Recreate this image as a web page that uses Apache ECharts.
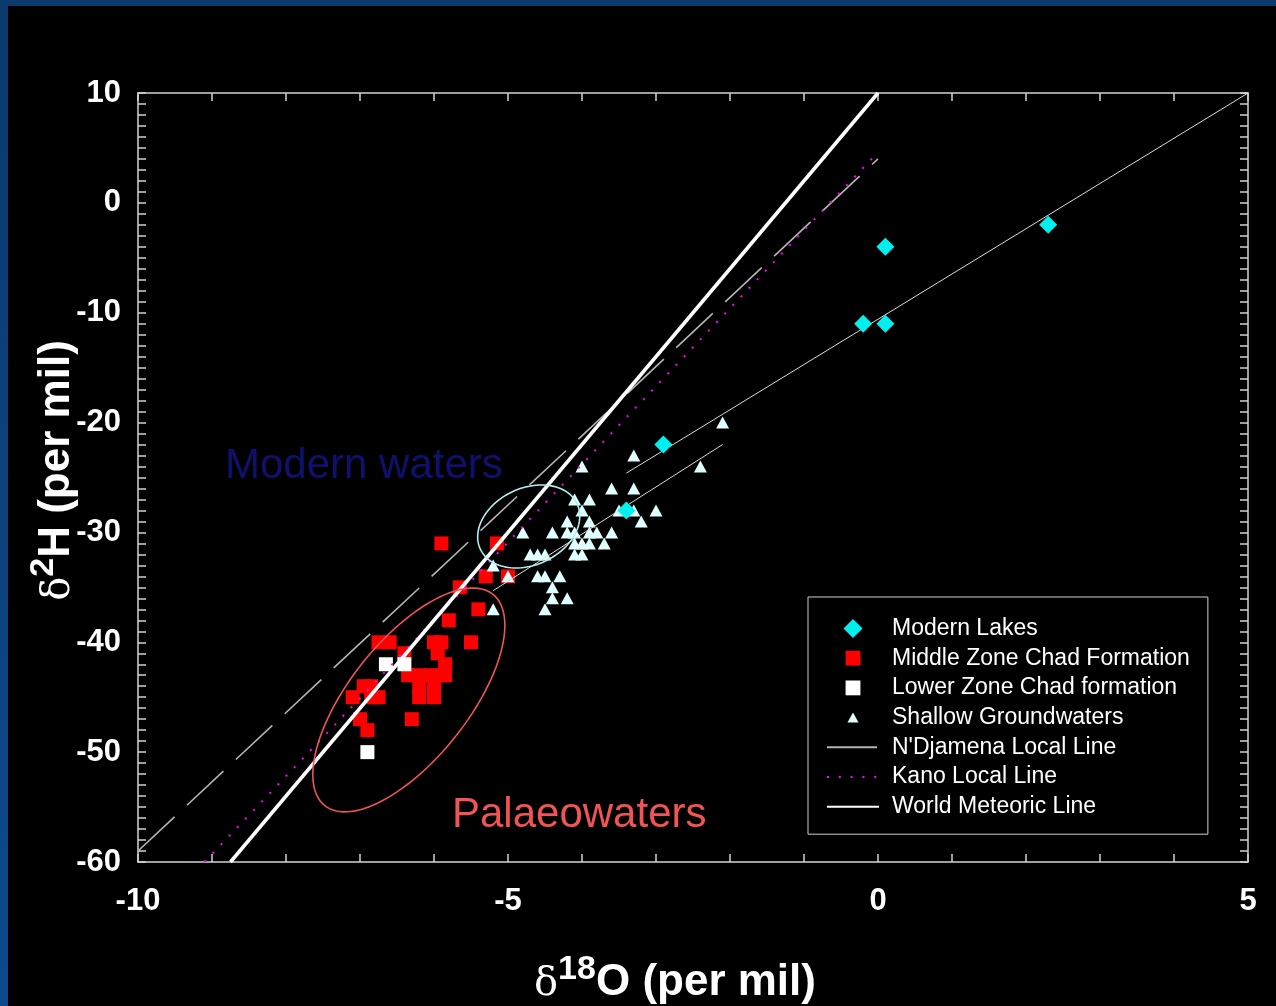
<!DOCTYPE html>
<html><head><meta charset="utf-8">
<script src="https://cdn.jsdelivr.net/npm/echarts@6/dist/echarts.min.js"></script>
<style>
html,body{margin:0;padding:0;width:1276px;height:1006px;overflow:hidden;background:linear-gradient(180deg,#0b3a6c,#0d4a8c);}
#c{position:absolute;left:8px;top:6px;width:1268px;height:1000px;background:#000;}
</style></head><body><div id="c"></div>
<script>
// ---- data ----
var xTicks = [-10, -5, 0, 5];
var yTicks = [-60, -50, -40, -30, -20, -10, 0, 10];

var modernLakes = [[2.3,-2],[0.1,-4],[-0.2,-11],[0.1,-11],[-2.9,-22],[-3.4,-28]];

var middleZone = [
  [-5.9,-31],[-5.15,-31],[-5.3,-34],[-5.0,-34],[-5.65,-35],[-5.4,-37],[-5.8,-38],
  [-6.75,-40],[-6.6,-40],[-6.0,-40],[-5.9,-40],[-5.5,-40],
  [-6.4,-41],[-5.95,-41],[-5.85,-42],
  [-6.35,-43],[-6.2,-43],[-6.05,-43],[-5.9,-43],[-5.85,-43],
  [-6.2,-44],[-6.0,-44],[-6.2,-45],[-6.0,-45],
  [-6.95,-44],[-6.85,-44],[-7.1,-45],[-6.85,-45],[-6.75,-45],
  [-7.0,-47],[-6.9,-48],[-6.3,-47]
];

var lowerZone = [[-6.65,-42],[-6.4,-42],[-6.9,-50]];

var shallow = [
  [-2.1,-20],[-3.3,-23],[-2.4,-24],[-4.0,-24],
  [-3.6,-26],[-3.3,-26],
  [-4.1,-27],[-3.9,-27],
  [-4.0,-28],[-3.5,-28],[-3.3,-28],[-3.0,-28],
  [-4.2,-29],[-3.9,-29],[-3.2,-29],
  [-4.8,-30],[-4.4,-30],[-4.2,-30],[-4.1,-30],[-3.9,-30],[-3.8,-30],[-3.6,-30],
  [-4.1,-31],[-4.0,-31],[-3.9,-31],[-3.7,-31],
  [-4.7,-32],[-4.6,-32],[-4.5,-32],[-4.1,-32],[-4.0,-32],
  [-5.2,-33],
  [-5.0,-34],[-4.6,-34],[-4.5,-34],[-4.3,-34],
  [-4.4,-35],
  [-4.4,-36],[-4.2,-36],
  [-4.5,-37],[-5.2,-37]
];

var ndjamenaLine = [[-10,-59],[0,4]];
var kanoLine = [[-9.1,-60],[0,4.6]];
var worldMeteoricLine = [[-8.75,-60],[0,10]];
var evaporationLine1 = [[-3.4,-24.6],[5,10]];
var evaporationLine2 = [[-5.2,-35.3],[-2.1,-22.0]];

var modernEllipseCenter = [-4.72,-29.46];
var modernEllipseAxes = [[0.654,2.062],[-0.220,3.165]];
var palaeoEllipseCenter = [-6.34,-45.25];
var palaeoEllipseAxes = [[1.136,9.617],[-0.627,3.36]];

var legendNames = ['Modern Lakes','Middle Zone Chad Formation','Lower Zone Chad formation','Shallow Groundwaters',"N'Djamena Local Line",'Kano Local Line','World Meteoric Line'];

// ---- chart ----
var FONT = 'Liberation Sans, Arial, sans-serif';
var AX = '#d2d2d2';

function ellipse(name, center, axes, color) {
  return {
    type: 'custom', name: name, silent: true, z: 4,
    data: [[center[0], center[1]]],
    renderItem: function (params, api) {
      var pts = [];
      for (var i = 0; i <= 120; i++) {
        var t = i / 120 * 2 * Math.PI;
        pts.push(api.coord([
          center[0] + axes[0][0] * Math.cos(t) + axes[1][0] * Math.sin(t),
          center[1] + axes[0][1] * Math.cos(t) + axes[1][1] * Math.sin(t)
        ]));
      }
      return { type: 'polyline', shape: { points: pts }, style: { fill: 'none', stroke: color, lineWidth: 1.6 } };
    }
  };
}

function axisCommon(extra) {
  var o = {
    type: 'value',
    axisLine: { show: true, onZero: false, lineStyle: { color: AX, width: 1.5 } },
    axisTick: { show: true, inside: true, length: 8, lineStyle: { color: AX, width: 1.5 } },
    minorTick: { show: true, length: 8, lineStyle: { color: AX, width: 1.5 } },
    splitLine: { show: false },
    minorSplitLine: { show: false }
  };
  for (var k in extra) o[k] = extra[k];
  return o;
}

var titleRich = {
  d: { fontFamily: 'DejaVu Serif', fontSize: 40, color: '#fff', verticalAlign: 'bottom', lineHeight: 46 },
  s: { fontFamily: FONT, fontSize: 34, fontWeight: 'bold', color: '#fff', verticalAlign: 'bottom', lineHeight: 34, padding: [0, 0, 18, 0] },
  n: { fontFamily: FONT, fontSize: 44, fontWeight: 'bold', color: '#fff', verticalAlign: 'bottom', lineHeight: 46 }
};

var hideSym = { color: 'rgba(0,0,0,0)', borderWidth: 0, opacity: 0 };

var chart = echarts.init(document.getElementById('c'), null, { renderer: 'canvas' });

var option = {
  backgroundColor: '#000',
  animation: false,
  grid: { left: 130, top: 87, width: 1110, height: 769, containLabel: false, outerBoundsMode: 'none' },
  xAxis: [
    axisCommon({
      position: 'bottom', min: xTicks[0], max: xTicks[xTicks.length - 1], interval: 5,
      minorTick: { show: true, splitNumber: 5, length: 8, lineStyle: { color: AX, width: 1.5 } },
      axisLabel: { color: '#fff', fontSize: 31, fontWeight: 'bold', fontFamily: FONT, margin: 24 },
      name: '{d|δ}{s|18}{n|O (per mil)}',
      nameLocation: 'middle', nameGap: 97,
      nameTextStyle: { color: '#fff', padding: [0, 36, 0, 0], rich: titleRich }
    }),
    axisCommon({
      position: 'top', min: xTicks[0], max: xTicks[xTicks.length - 1], interval: 5,
      minorTick: { show: true, splitNumber: 5, length: 8, lineStyle: { color: AX, width: 1.5 } },
      axisLabel: { show: false }
    })
  ],
  yAxis: [
    axisCommon({
      position: 'left', min: yTicks[0], max: yTicks[yTicks.length - 1], interval: 10,
      minorTick: { show: true, splitNumber: 10, length: 8, lineStyle: { color: AX, width: 1.5 } },
      axisLabel: { color: '#fff', fontSize: 31, fontWeight: 'bold', fontFamily: FONT, margin: 17 },
      name: '{d|δ}{s|2}{n|H (per mil)}',
      nameLocation: 'middle', nameGap: 59, nameRotate: 90, nameMoveOverlap: false,
      nameTextStyle: { color: '#fff', padding: [0, 0, 0, 14], rich: titleRich }
    }),
    axisCommon({
      position: 'right', min: yTicks[0], max: yTicks[yTicks.length - 1], interval: 10,
      minorTick: { show: true, splitNumber: 10, length: 8, lineStyle: { color: AX, width: 1.5 } },
      axisLabel: { show: false }
    })
  ],
  legend: {
    orient: 'vertical', left: 800, top: 591,
    padding: [20, 18, 16, 18],
    itemWidth: 52, itemHeight: 19, itemGap: 6.7,
    backgroundColor: '#000', borderColor: '#cfcfcf', borderWidth: 1,
    selectedMode: false,
    textStyle: { color: '#fff', fontSize: 23, fontFamily: FONT, padding: [0, 0, 0, 8] },
    data: [
      { name: legendNames[0], icon: 'path://M10,0L20,10L10,20L0,10Z' },
      { name: legendNames[1], icon: 'path://M0,0M20,20M2.2,2.2L17.8,2.2L17.8,17.8L2.2,17.8Z' },
      { name: legendNames[2], icon: 'path://M0,0M20,20M2.2,2.2L17.8,2.2L17.8,17.8L2.2,17.8Z' },
      { name: legendNames[3], icon: 'path://M0,0M20,20M10,4.6L15.8,15.2L4.2,15.2Z' },
      { name: legendNames[4], itemStyle: hideSym },
      { name: legendNames[5], itemStyle: hideSym },
      { name: legendNames[6], itemStyle: hideSym }
    ]
  },
  graphic: [
    { type: 'text', x: 217, y: 460, z: 10,
      style: { text: 'Modern waters', fill: '#10106e', font: '42px "Liberation Sans", Arial', verticalAlign: 'middle' } },
    { type: 'text', x: 444, y: 809, z: 10,
      style: { text: 'Palaeowaters', fill: '#f05454', font: '42px "Liberation Sans", Arial', verticalAlign: 'middle' } }
  ],
  series: [
    { type: 'scatter', name: legendNames[1], data: middleZone, symbol: 'rect', symbolSize: 14, z: 2,
      itemStyle: { color: '#ff0000', opacity: 1 } },
    { type: 'scatter', name: legendNames[2], data: lowerZone, symbol: 'rect', symbolSize: 14, z: 2,
      itemStyle: { color: '#ffffff', opacity: 1 } },
    { type: 'scatter', name: legendNames[3], data: shallow, symbol: 'triangle', symbolSize: [13, 12], z: 2,
      itemStyle: { color: '#e0ffff', opacity: 1 } },
    { type: 'line', name: 'evap1', data: evaporationLine1, symbol: 'none', z: 3, silent: true,
      lineStyle: { color: '#dcdcdc', width: 1 } },
    { type: 'line', name: 'evap2', data: evaporationLine2, symbol: 'none', z: 3, silent: true,
      lineStyle: { color: '#dcdcdc', width: 1 } },
    { type: 'line', name: legendNames[4], data: ndjamenaLine, symbol: 'none', z: 3,
      lineStyle: { color: '#b4b4b4', width: 1.6, type: [50, 17] }, itemStyle: { color: '#b4b4b4' } },
    { type: 'line', name: legendNames[5], data: kanoLine, symbol: 'none', z: 3,
      lineStyle: { color: '#ff00ff', width: 2, type: [2, 9.8] }, itemStyle: { color: '#ff00ff' } },
    { type: 'line', name: legendNames[6], data: worldMeteoricLine, symbol: 'none', z: 3,
      lineStyle: { color: '#ffffff', width: 3.5 }, itemStyle: { color: '#ffffff' } },
    ellipse('modernEllipse', modernEllipseCenter, modernEllipseAxes, '#b4eeee'),
    ellipse('palaeoEllipse', palaeoEllipseCenter, palaeoEllipseAxes, '#f05454'),
    { type: 'scatter', name: legendNames[0], data: modernLakes, symbol: 'diamond', symbolSize: 18, z: 5,
      itemStyle: { color: '#00f0f0', opacity: 1 } }
  ]
};
chart.setOption(option);
</script></body></html>
